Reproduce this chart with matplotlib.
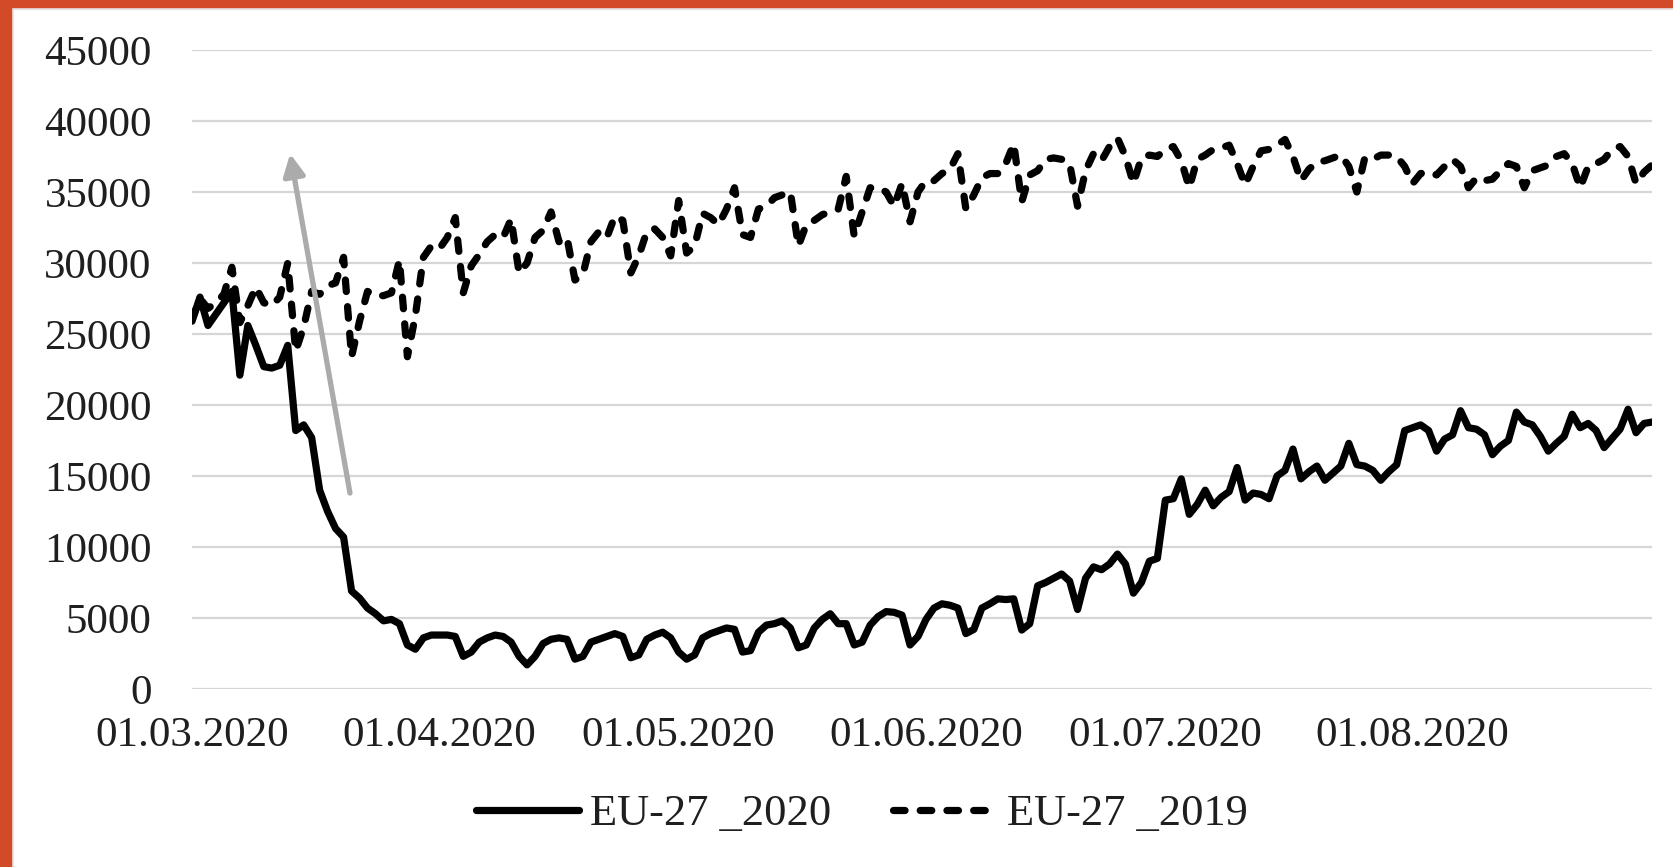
import matplotlib
matplotlib.use("Agg")
import matplotlib.pyplot as plt
import matplotlib.dates as mdates
import pandas as pd
from matplotlib.patches import Rectangle

# ---------------- data ----------------
dates = pd.date_range("2020-03-01", "2020-08-31", freq="D")

eu27_2020 = [
    # Mar 1 - Mar 31
    25900, 27600, 25600, 26400, 27200, 28000, 22100, 25600, 24200, 22700,
    22600, 22800, 24200, 18200, 18600, 17700, 14000, 12500, 11300, 10700,
    6900, 6400, 5700, 5300, 4800, 4900, 4600, 3100, 2800, 3600, 3800,
    # Apr 1 - Apr 30
    3800, 3800, 3700, 2300, 2600, 3300, 3600, 3800, 3700, 3300,
    2300, 1700, 2300, 3200, 3500, 3600, 3500, 2100, 2300, 3300,
    3500, 3700, 3900, 3700, 2200, 2400, 3500, 3800, 4000, 3600,
    # May 1 - May 31
    2600, 2100, 2400, 3600, 3900, 4100, 4300, 4200, 2600, 2700,
    4000, 4500, 4600, 4800, 4300, 2900, 3100, 4300, 4900, 5300,
    4600, 4600, 3100, 3300, 4500, 5100, 5450, 5400, 5200, 3100, 3700,
    # Jun 1 - Jun 30
    4900, 5700, 6000, 5900, 5700, 3900, 4200, 5700, 6000, 6350,
    6300, 6350, 4150, 4600, 7270, 7500, 7800, 8100, 7600, 5600,
    7800, 8600, 8400, 8800, 9500, 8800, 6750, 7500, 9000, 9200,
    # Jul 1 - Jul 31
    13300, 13400, 14800, 12300, 13000, 14000, 12900, 13500, 13900, 15600,
    13300, 13800, 13700, 13400, 15000, 15400, 16900, 14800, 15300, 15700,
    14700, 15200, 15700, 17300, 15800, 15700, 15400, 14700, 15300, 15800, 18200,
    # Aug 1 - Aug 31
    18400, 18600, 18200, 16750, 17600, 17900, 19600, 18400, 18300, 17900,
    16500, 17100, 17500, 19500, 18800, 18600, 17800, 16750, 17300, 17800,
    19350, 18400, 18700, 18200, 17000, 17650, 18300, 19700, 18050, 18700, 18800,
]

eu27_2019 = [
    # Mar
    26000, 27500, 26800, 27200, 27800, 29700, 25800, 27000, 28300, 27200,
    27000, 27600, 30000, 23800, 25500, 28000, 27800, 28400, 28600, 30400,
    23400, 25900, 28000, 27700, 27700, 27900, 30200, 23400, 26300, 30400, 31200,
    # Apr
    31000, 31800, 33200, 27900, 29800, 30600, 31500, 32000, 31800, 33100,
    29300, 30000, 31800, 32300, 33600, 31500, 31800, 28800, 29200, 31500,
    32200, 31800, 33300, 33000, 29300, 30500, 32200, 32400, 31800, 30500,
    # May
    34400, 30700, 31200, 33500, 33200, 32700, 33800, 35300, 32000, 31800,
    33800, 34000, 34600, 34800, 35000, 31200, 32700, 33000, 33400, 33600,
    33800, 36100, 31900, 33600, 35300, 35300, 35000, 34000, 35600, 32900, 35000,
    # Jun
    35800, 35800, 36300, 36600, 37700, 33800, 34800, 36000, 36300, 36300,
    37000, 38400, 34300, 36200, 36500, 37300, 37400, 37300, 37000, 34000,
    36500, 37700, 37200, 38200, 38800, 37500, 35600, 37400, 37600, 37500,
    # Jul
    38000, 38200, 37200, 35300, 37300, 37600, 38000, 38100, 38300, 37000,
    35500, 36800, 37900, 38000, 38300, 38700, 37500, 35800, 36600, 37100,
    37200, 37400, 37600, 36800, 35000, 37400, 37300, 37600, 37600, 37500, 36800,
    # Aug
    35600, 36300, 36400, 36200, 36800, 37300, 36800, 35300, 36000, 35800,
    35900, 36500, 37000, 36800, 35300, 36500, 36700, 36900, 37500, 37700,
    37000, 35300, 36800, 37000, 37300, 38000, 38200, 37500, 35600, 36400, 36900,
]

series_labels = ["EU-27 _2020", "EU-27 _2019"]
y_ticks = list(range(0, 45001, 5000))
x_tick_dates = pd.to_datetime(["2020-03-01", "2020-04-01", "2020-05-01",
                               "2020-06-01", "2020-07-01", "2020-08-01"])

# ---------------- figure ----------------
W, H = 1673, 867
fig = plt.figure(figsize=(W / 100, H / 100), dpi=100)
fig.patch.set_facecolor("white")

serif = ["Liberation Serif", "DejaVu Serif"]
txt_color = "#1F1F1F"

ax = fig.add_axes([192 / W, 178 / H, 1460 / W, 639 / H])
ax.set_facecolor("white")

lw = 5.2
ax.plot(dates, eu27_2020, color="black", lw=lw, solid_joinstyle="round",
        solid_capstyle="round", label=series_labels[0], zorder=3)
ax.plot(dates, eu27_2019, color="black", lw=lw, dashes=(1.6, 2.1),
        dash_capstyle="round", dash_joinstyle="round",
        label=series_labels[1], zorder=3)

ax.set_ylim(0, 45000)
ax.set_xlim(dates[0], dates[-1])
ax.set_yticks(y_ticks)
ax.set_xticks(x_tick_dates)
ax.xaxis.set_major_formatter(mdates.DateFormatter("%d.%m.%Y"))

ax.grid(axis="y", color="#D6D6D6", lw=1.6, zorder=0)
ax.grid(axis="x", visible=False)
ax.set_axisbelow(True)
for s in ax.spines.values():
    s.set_visible(False)
ax.tick_params(axis="both", length=0, labelsize=31, labelcolor=txt_color)
ax.tick_params(axis="y", pad=29)
ax.tick_params(axis="x", pad=20)
for lab in ax.get_xticklabels() + ax.get_yticklabels():
    lab.set_fontfamily(serif)

# grey arrow annotation
ax.annotate("", xy=(dates[0] + pd.Timedelta(days=12.3), 37700),
            xytext=(dates[0] + pd.Timedelta(days=19.8), 13800),
            arrowprops=dict(arrowstyle="-|>,head_length=1.3,head_width=0.65",
                            color="#ABABAB", lw=3.8, shrinkA=0, shrinkB=0),
            zorder=4)

leg = fig.legend(loc="center", bbox_to_anchor=(862 / W, 53 / H), ncol=2,
                 frameon=False, prop={"family": serif, "size": 32},
                 handlelength=2.3, handletextpad=0.25, columnspacing=1.4)
for t in leg.get_texts():
    t.set_color(txt_color)

# orange frame (left and top)
border = "#D24A28"
fig.patches.append(Rectangle((0, 0), 11 / W, 1, transform=fig.transFigure,
                             color=border, zorder=10))
fig.patches.append(Rectangle((0, 1 - 7 / H), 1, 7 / H, transform=fig.transFigure,
                             color=border, zorder=10))
fig.patches.append(Rectangle((11 / W, 0), 2 / W, 1 - 7 / H, transform=fig.transFigure,
                             color="#E6E6E6", zorder=9))
fig.patches.append(Rectangle((11 / W, 1 - 9 / H), 1, 2 / H, transform=fig.transFigure,
                             color="#E6E6E6", zorder=9))

fig.savefig("out.png", dpi=100, facecolor="white")
